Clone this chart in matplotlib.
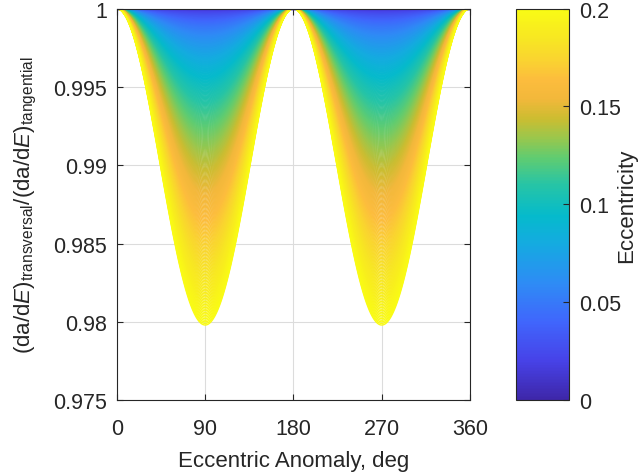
import numpy as np
import matplotlib
matplotlib.use("Agg")
import matplotlib.pyplot as plt
from matplotlib.collections import LineCollection
from matplotlib.colors import LinearSegmentedColormap, Normalize

# ---- data ----
eccentricity = np.arange(0.0, 0.2 + 1e-9, 0.0005)      # family of orbits
anomaly_deg = np.arange(0, 361, 1)                      # eccentric anomaly, deg
x_ticks = [0, 90, 180, 270, 360]
y_ticks = [0.975, 0.98, 0.985, 0.99, 0.995, 1.0]
cbar_ticks = [0, 0.05, 0.1, 0.15, 0.2]

# parula-like colormap anchors
parula_pos = [0.0, 0.1, 0.2, 0.3, 0.4, 0.47, 0.55, 0.62, 0.67, 0.72, 0.77, 0.82, 0.87, 0.92, 1.0]
parula_rgb = [(0.2422, 0.1504, 0.6603), (0.2780, 0.2600, 0.9100),
              (0.2500, 0.4000, 0.9900), (0.1800, 0.5500, 0.9600),
              (0.0800, 0.6700, 0.8800), (0.0200, 0.7300, 0.8000),
              (0.1500, 0.7700, 0.6500), (0.3800, 0.8000, 0.4400),
              (0.6000, 0.7800, 0.3000), (0.8000, 0.7400, 0.1900),
              (0.9500, 0.7200, 0.2300), (0.9900, 0.7400, 0.2400),
              (0.9800, 0.8300, 0.1900), (0.9700, 0.9000, 0.1400),
              (0.9769, 0.9839, 0.0805)]
parula = LinearSegmentedColormap.from_list("parula", list(zip(parula_pos, parula_rgb)), N=256)

# ratio of semi-major axis rates: transversal vs tangential thrust
E = np.deg2rad(anomaly_deg)
segs = []
for e in eccentricity:
    ratio = np.sqrt(1 - e**2) / np.sqrt(1 - (e * np.cos(E))**2)
    segs.append(np.column_stack([anomaly_deg, ratio]))

# ---- style ----
plt.rcParams['font.family'] = ['Liberation Sans', 'DejaVu Sans']
plt.rcParams['mathtext.fontset'] = 'custom'
plt.rcParams['mathtext.rm'] = 'Liberation Sans'
plt.rcParams['mathtext.it'] = 'Liberation Sans:italic'
plt.rcParams['xtick.direction'] = 'in'
plt.rcParams['ytick.direction'] = 'in'

TXT = '#262626'
fig = plt.figure(figsize=(6.39, 4.77), dpi=100)
ax = fig.add_axes([0.183, 0.159, 0.5525, 0.821])
cax = fig.add_axes([0.8075, 0.159, 0.083, 0.821])

norm = Normalize(0, 0.2)
lc = LineCollection(segs, cmap=parula, norm=norm, linewidths=1.0)
lc.set_array(eccentricity)
ax.add_collection(lc)

ax.set_xlim(0, 360)
ax.set_ylim(0.975, 1.0)
ax.set_xticks(x_ticks)
ax.set_yticks(y_ticks)
ax.set_yticklabels(['%g' % v for v in y_ticks])
ax.set_axisbelow(True)
ax.grid(True, color='#dcdcdc', linewidth=0.8)
for s in ax.spines.values():
    s.set_color(TXT)
    s.set_linewidth(0.8)
ax.tick_params(labelsize=15.5, colors=TXT, length=4, width=0.8,
               top=True, right=True)
ax.tick_params(axis='x', pad=13)
ax.tick_params(axis='y', pad=7)
ax.set_xlabel('Eccentric Anomaly, deg', fontsize=16, color=TXT, labelpad=8)
ax.set_ylabel(r'(da/d$E$)$_{\mathrm{transversal}}$/(da/d$E$)$_{\mathrm{tangential}}$',
              fontsize=16, color=TXT, labelpad=10)

cb = fig.colorbar(lc, cax=cax, ticks=cbar_ticks)
cb.ax.set_yticklabels(['%g' % v for v in cbar_ticks])
cb.ax.tick_params(labelsize=15.5, colors=TXT, direction='in', length=4, width=0.8, pad=7)
cb.outline.set_edgecolor(TXT)
cb.outline.set_linewidth(0.8)
cb.set_label('Eccentricity', fontsize=16, color=TXT)
cb.ax.yaxis.set_label_coords(1.88, 0.5)

fig.savefig('out.png', dpi=100)
